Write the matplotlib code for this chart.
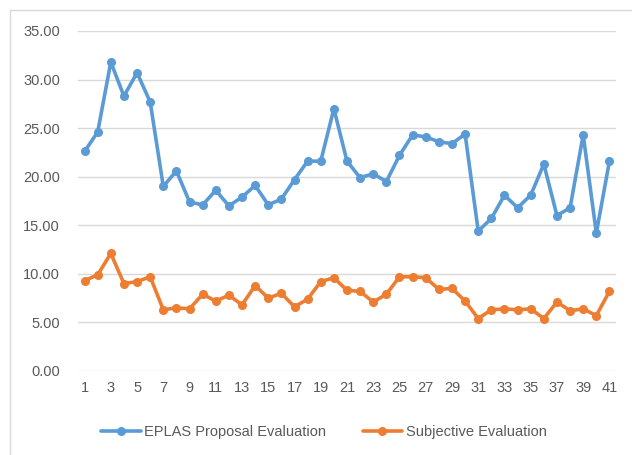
import numpy as np
import matplotlib
matplotlib.use("Agg")
import matplotlib.pyplot as plt
from matplotlib.patches import Rectangle

plt.rcParams['font.family'] = ['Liberation Sans', 'DejaVu Sans']

#data
items = list(range(1, 42))
eplas = [22.6, 24.6, 31.8, 28.3, 30.7, 27.7, 19.0, 20.6, 17.4, 17.1,
         18.6, 17.0, 17.9, 19.1, 17.1, 17.7, 19.7, 21.6, 21.6, 27.0,
         21.6, 19.9, 20.3, 19.5, 22.2, 24.3, 24.1, 23.6, 23.4, 24.4,
         14.4, 15.7, 18.1, 16.8, 18.1, 21.3, 16.0, 16.8, 24.3, 14.2,
         21.6]
subjective = [9.3, 9.9, 12.1, 9.0, 9.2, 9.7, 6.3, 6.5, 6.4, 7.9,
              7.2, 7.8, 6.8, 8.8, 7.5, 8.0, 6.6, 7.4, 9.2, 9.6,
              8.3, 8.2, 7.1, 7.9, 9.7, 9.7, 9.6, 8.4, 8.5, 7.2,
              5.4, 6.3, 6.4, 6.3, 6.4, 5.4, 7.1, 6.2, 6.4, 5.7,
              8.2]
labels = ['EPLAS Proposal Evaluation', 'Subjective Evaluation']
yticks = np.arange(0, 36, 5)

blue = '#5B9BD5'
orange = '#ED7D31'
txt = '#595959'

fig = plt.figure(figsize=(6.32, 4.55), dpi=100)
ax = fig.add_axes([78/632, 1-371/455, (616-78)/632, (371-31)/455])

#chart border like the spreadsheet frame
fig.patches.append(Rectangle((10/632, -0.05), 1.0, 1-10/455+0.05, transform=fig.transFigure,
                             fill=False, edgecolor='#d9d9d9', linewidth=1.0))

ax.plot(items, eplas, color=blue, lw=2.6, marker='o', ms=5.5, label=labels[0], solid_capstyle='round')
ax.plot(items, subjective, color=orange, lw=2.6, marker='o', ms=5.5, label=labels[1], solid_capstyle='round')

ax.set_xlim(0.5, 41.5)
ax.set_ylim(0, 35)
ax.set_yticks(yticks)
ax.set_yticklabels(['%.2f' % v for v in yticks])
ax.set_xticks(items[::2])
ax.grid(axis='y', color='#d9d9d9', lw=1.0)
ax.set_axisbelow(True)
for s in ax.spines.values():
    s.set_visible(False)
ax.tick_params(length=0, colors=txt, labelsize=10.5)
ax.tick_params(axis='y', pad=13)
ax.tick_params(axis='x', pad=7)

ax.legend(loc='center', bbox_to_anchor=(324/632, 1-432/455), bbox_transform=fig.transFigure,
          ncol=2, frameon=False, fontsize=10.5, labelcolor=txt, columnspacing=2.5,
          handlelength=2.7, handletextpad=0.25)

fig.savefig('out.png', dpi=100)
